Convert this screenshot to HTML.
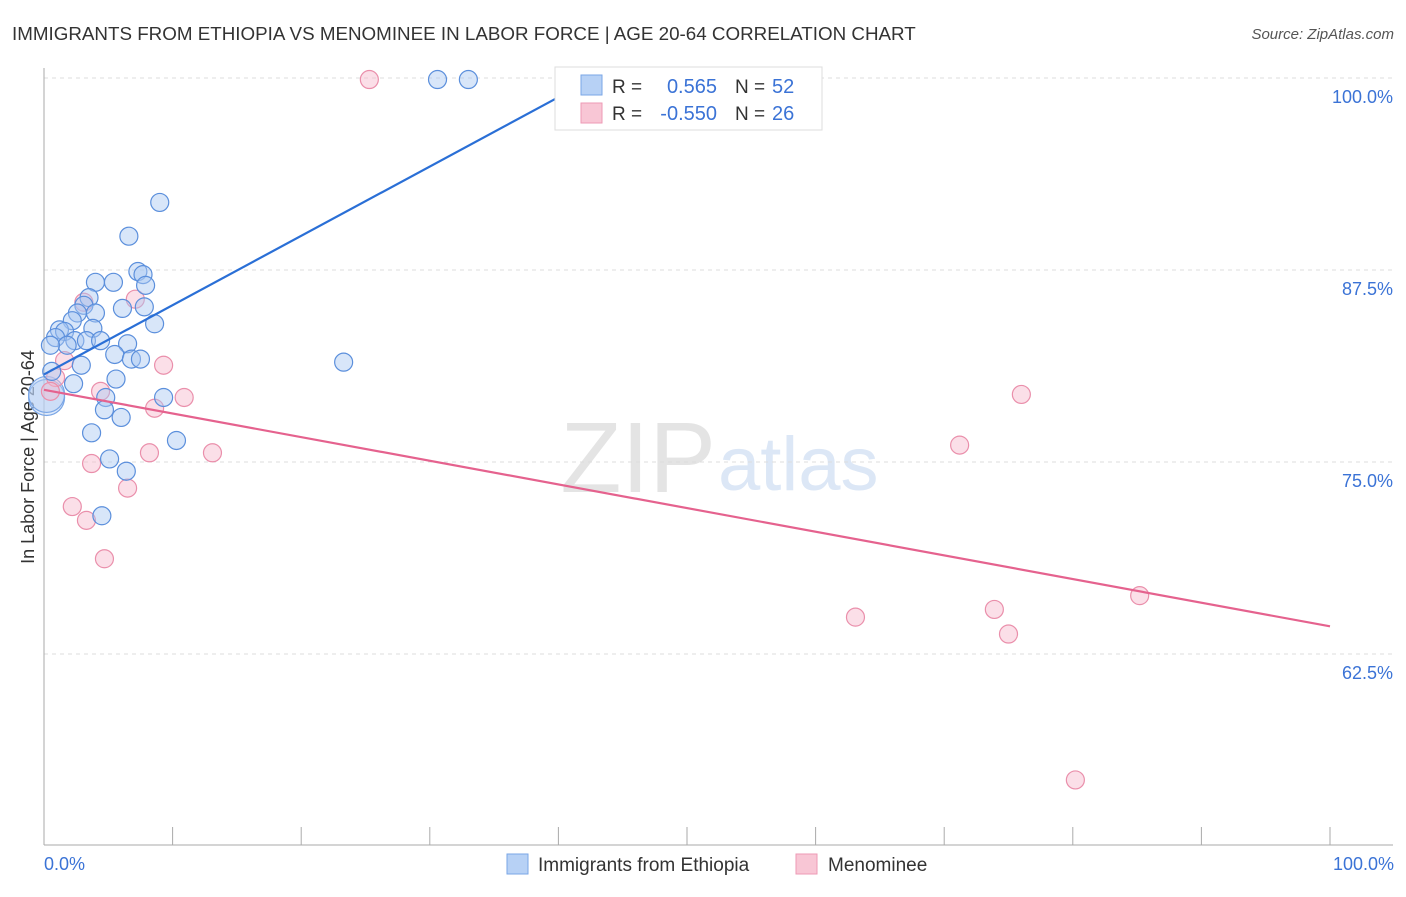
<!DOCTYPE html>
<html><head><meta charset="utf-8"><style>
body{margin:0;background:#fff;font-family:"Liberation Sans",sans-serif;}
svg text{font-family:"Liberation Sans",sans-serif;}
</style></head><body>
<svg id="chart" width="1406" height="892" xmlns="http://www.w3.org/2000/svg">
<text x="12" y="40" font-size="18.8" fill="#333">IMMIGRANTS FROM ETHIOPIA VS MENOMINEE IN LABOR FORCE | AGE 20-64 CORRELATION CHART</text>
<text x="1394" y="39" font-size="15" fill="#555" text-anchor="end" font-style="italic">Source: ZipAtlas.com</text>
<text transform="translate(34,457) rotate(-90)" font-size="18" fill="#333" text-anchor="middle">In Labor Force | Age 20-64</text>
<text x="716" y="492" font-size="100" fill="#e4e4e4" text-anchor="end" font-family="Liberation Serif">ZIP</text>
<text x="718" y="490" font-size="76" fill="#dce7f6">atlas</text>
<g id="grid"></g><g id="axes"></g><g id="marks"></g>
<g>
<rect x="555" y="67" width="267" height="63" fill="#fff" stroke="#ddd"/>
<rect x="581" y="75" width="21" height="20" fill="#b7d1f5" stroke="#7aa6e6"/>
<rect x="581" y="103" width="21" height="20" fill="#f8c6d5" stroke="#ee9ab5"/>
<text x="612" y="93" font-size="19" fill="#333">R = </text><text x="717" y="93" font-size="20" fill="#3b73d6" text-anchor="end">0.565</text>
<text x="735" y="93" font-size="19" fill="#333">N = </text><text x="772" y="93" font-size="20" fill="#3b73d6">52</text>
<text x="612" y="120" font-size="19" fill="#333">R = </text><text x="717" y="120" font-size="20" fill="#3b73d6" text-anchor="end">-0.550</text>
<text x="735" y="120" font-size="19" fill="#333">N = </text><text x="772" y="120" font-size="20" fill="#3b73d6">26</text>
</g>
<g>
<rect x="507" y="854" width="21" height="20" fill="#b7d1f5" stroke="#7aa6e6"/>
<text x="538" y="871" font-size="19" fill="#333">Immigrants from Ethiopia</text>
<rect x="796" y="854" width="21" height="20" fill="#f8c6d5" stroke="#ee9ab5"/>
<text x="828" y="871" font-size="19" fill="#333">Menominee</text>
</g>
<text x="44" y="870" font-size="18" fill="#3b73d6">0.0%</text>
<text x="1394" y="870" font-size="18" fill="#3b73d6" text-anchor="end">100.0%</text>
</svg>
<script>
const yTicks=[100,87.5,75,62.5];
const yTickLabels=["100.0%","87.5%","75.0%","62.5%"];
const blueX=[30.6,33.0,9.0,6.6,4.0,5.4,7.3,7.7,7.9,3.5,3.1,6.1,7.8,2.6,4.0,2.2,8.6,3.8,1.2,1.6,0.9,2.4,3.3,4.4,1.8,6.5,5.5,6.8,7.5,23.3,2.9,0.6,5.6,2.3,4.8,9.3,4.7,6.0,3.7,10.3,5.1,6.4,4.5,0.5];
const blueY=[99.9,99.9,91.9,89.7,86.7,86.7,87.4,87.2,86.5,85.7,85.2,85.0,85.1,84.7,84.7,84.2,84.0,83.7,83.6,83.5,83.1,82.9,82.9,82.9,82.6,82.7,82.0,81.7,81.7,81.5,81.3,80.9,80.4,80.1,79.2,79.2,78.4,77.9,76.9,76.4,75.2,74.4,71.5,82.6];
const pinkX=[25.3,76.0,71.2,85.2,73.9,63.1,75.0,80.2,9.3,10.9,8.6,4.4,7.1,3.1,1.6,0.9,0.5,8.2,13.1,3.7,6.5,2.2,3.3,4.7];
const pinkY=[99.9,79.4,76.1,66.3,65.4,64.9,63.8,54.3,81.3,79.2,78.5,79.6,85.6,85.4,81.6,80.5,79.6,75.6,75.6,74.9,73.3,72.1,71.2,68.7];
const bigX=[0.2,0.2];const bigY=[79.2,79.4];
const blueTrendX=[0,41];const blueTrendY=[80.7,99.2];
const pinkTrendX=[0,100];const pinkTrendY=[79.7,64.3];
const xTicks=[0,10,20,30,40,50,60,70,80,90,100];
const X=v=>44+v*12.86, Y=v=>78+(100-v)*15.36;
const NS="http://www.w3.org/2000/svg";
function mk(t,a,p){const e=document.createElementNS(NS,t);for(const k in a)e.setAttribute(k,a[k]);p.appendChild(e);return e;}
const grid=document.getElementById('grid'),axes=document.getElementById('axes'),marks=document.getElementById('marks');
yTicks.forEach((v,i)=>{
 const l=mk('line',{x1:44,x2:1393,y1:Y(v),y2:Y(v),stroke:'#ddd','stroke-dasharray':'4,4'},grid);
 
 
 const t=mk('text',{x:1393,y:Y(v)+25,'font-size':18,fill:'#3b73d6','text-anchor':'end'},grid);t.textContent=yTickLabels[i];
 
 
});
const ax=mk('line',{x1:44,x2:44,y1:68,y2:845,stroke:'#aaa'},axes);


const bx=mk('line',{x1:44,x2:1393,y1:845,y2:845,stroke:'#aaa'},axes);


xTicks.forEach(v=>{const t=mk('line',{x1:X(v),x2:X(v),y1:827,y2:845,stroke:'#aaa'},axes);
 
 });
function dots(xs,ys,fill,stroke,r,name){xs.forEach((x,i)=>{const c=mk('circle',{cx:X(x),cy:Y(ys[i]),r:r,fill:fill,'fill-opacity':0.45,stroke:stroke,'stroke-width':1.2},marks);
 
 });}
dots(bigX,bigY,'#b7d1f5','#7aa6e6',18,'point-large');
dots(pinkX,pinkY,'#f6b8cb','#ea8fab',9,'point-menominee');
dots(blueX,blueY,'#a9c8f2','#5b8fdc',9,'point-ethiopia');
const bl=mk('line',{x1:X(blueTrendX[0]),y1:Y(blueTrendY[0]),x2:X(blueTrendX[1]),y2:Y(blueTrendY[1]),stroke:'#2a6fd6','stroke-width':2.2},marks);


const pl=mk('line',{x1:X(pinkTrendX[0]),y1:Y(pinkTrendY[0]),x2:X(pinkTrendX[1]),y2:Y(pinkTrendY[1]),stroke:'#e5628e','stroke-width':2.2},marks);


</script>
</body></html>
